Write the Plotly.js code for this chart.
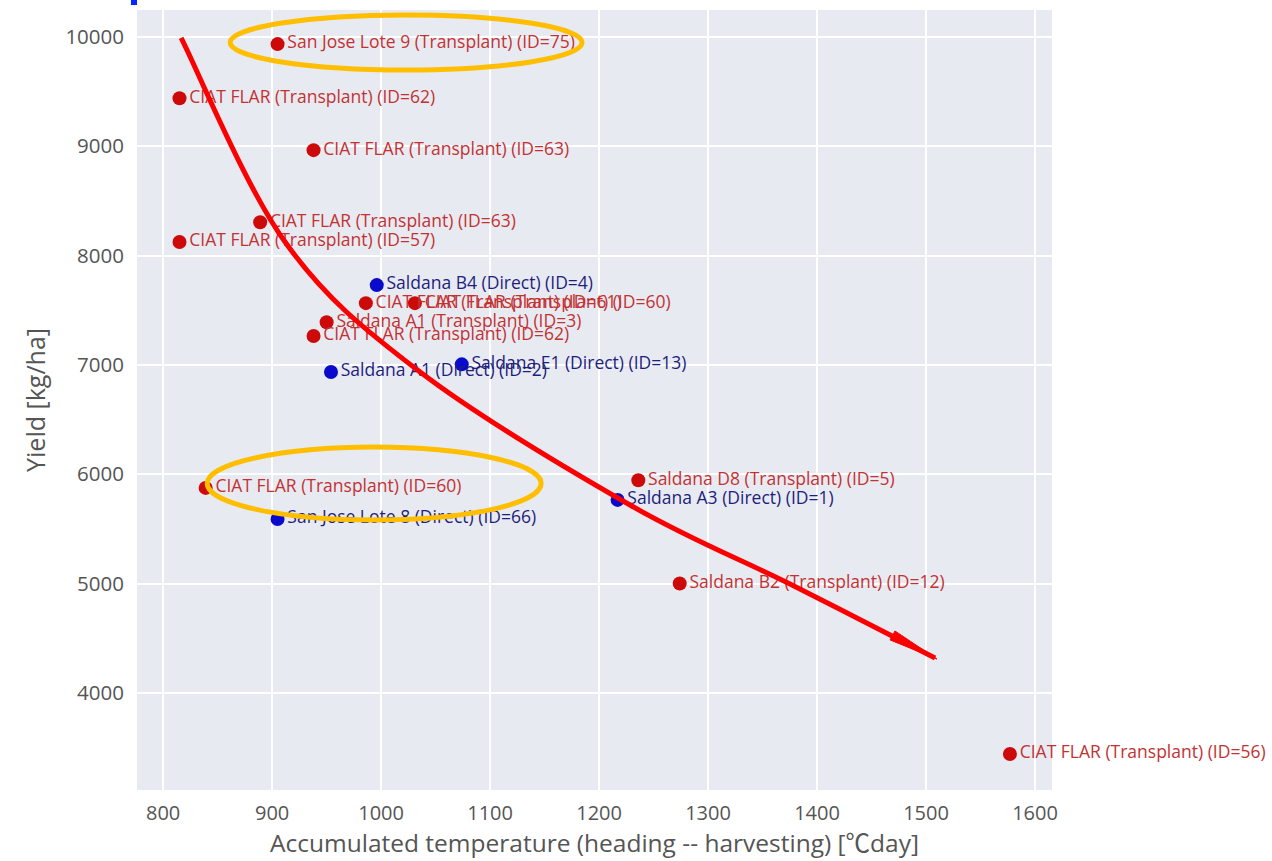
<!DOCTYPE html>
<html>
<head>
<meta charset="utf-8">
<script src="https://cdn.plot.ly/plotly-3.0.1.min.js"></script>
<style>html,body{margin:0;padding:0;background:#fff;}#chart{width:1272px;height:861px;}</style>
</head>
<body>
<div id="chart"></div>
<script>
// ---- Data ----
const transplantLabels = [
  "San Jose Lote 9 (Transplant) (ID=75)",
  "CIAT FLAR (Transplant) (ID=62)",
  "CIAT FLAR (Transplant) (ID=63)",
  "CIAT FLAR (Transplant) (ID=63)",
  "CIAT FLAR (Transplant) (ID=57)",
  "CIAT FLAR (Transplant) (ID=61)",
  "CIAT FLAR (Transplant) (ID=60)",
  "Saldana A1 (Transplant) (ID=3)",
  "CIAT FLAR (Transplant) (ID=62)",
  "Saldana D8 (Transplant) (ID=5)",
  "CIAT FLAR (Transplant) (ID=60)",
  "Saldana B2 (Transplant) (ID=12)",
  "CIAT FLAR (Transplant) (ID=56)"
];
const transplantTemp = [905, 815, 938, 889, 815, 986, 1031, 950, 938, 1236, 839, 1274, 1577];
const transplantYield = [9935, 9440, 8965, 8305, 8125, 7565, 7565, 7390, 7265, 5945, 5875, 5000, 3440];

const directLabels = [
  "Saldana B4 (Direct) (ID=4)",
  "Saldana E1 (Direct) (ID=13)",
  "Saldana A1 (Direct) (ID=2)",
  "Saldana A3 (Direct) (ID=1)",
  "San Jose Lote 8 (Direct) (ID=66)"
];
const directTemp = [996, 1074, 954, 1217, 905];
const directYield = [7730, 7005, 6935, 5765, 5590];

const xTicks = [800, 900, 1000, 1100, 1200, 1300, 1400, 1500, 1600];
const yTicks = [4000, 5000, 6000, 7000, 8000, 9000, 10000];

// ---- Hand-drawn overlay (annotation marks, in axis units) ----
const trendCurve = [[816.5, 9991], [911.9, 8124], [1035.8, 6935], [1228.4, 5718], [1375.2, 4995], [1508.3, 4318]];
const arrowHead = [[1510.1, 4309], [1471.5, 4566], [1467.0, 4484]];
const ellipseTop = {x0: 861.5, x1: 1184.4, y0: 9698, y1: 10201};
const ellipseMid = {x0: 840.4, x1: 1146.8, y0: 5581, y1: 6249};

function catmullPath(pts) {
  let d = `M ${pts[0][0]},${pts[0][1]}`;
  for (let i = 0; i < pts.length - 1; i++) {
    const p0 = pts[Math.max(i - 1, 0)], p1 = pts[i], p2 = pts[i + 1], p3 = pts[Math.min(i + 2, pts.length - 1)];
    const c1 = [p1[0] + (p2[0] - p0[0]) / 6, p1[1] + (p2[1] - p0[1]) / 6];
    const c2 = [p2[0] - (p3[0] - p1[0]) / 6, p2[1] - (p3[1] - p1[1]) / 6];
    d += ` C ${c1[0]},${c1[1]} ${c2[0]},${c2[1]} ${p2[0]},${p2[1]}`;
  }
  return d;
}

const FONT = "'Open Sans', 'Noto Sans CJK JP', 'DejaVu Sans', sans-serif";

const traces = [
  {
    type: 'scatter', mode: 'markers+text', name: 'Transplant',
    x: transplantTemp, y: transplantYield, text: transplantLabels,
    textposition: 'middle right', cliponaxis: false,
    marker: {color: 'rgb(205,10,10)', size: 14},
    textfont: {family: FONT, size: 17.5, color: 'rgb(195,50,50)'}
  },
  {
    type: 'scatter', mode: 'markers+text', name: 'Direct',
    x: directTemp, y: directYield, text: directLabels,
    textposition: 'middle right', cliponaxis: false,
    marker: {color: 'rgb(10,10,205)', size: 14},
    textfont: {family: FONT, size: 17.5, color: 'rgb(30,30,125)'}
  }
];

const layout = {
  width: 1272, height: 861,
  margin: {l: 137, r: 220, t: 10, b: 71},
  paper_bgcolor: '#ffffff',
  plot_bgcolor: '#E8EAF2',
  showlegend: false,
  font: {family: FONT, color: '#444'},
  xaxis: {
    range: [776, 1615.6], tickvals: xTicks, ticktext: xTicks.map(String),
    gridcolor: '#ffffff', gridwidth: 1.5, zeroline: false, showline: false,
    ticklabelstandoff: 9,
    tickfont: {family: FONT, size: 20, color: '#555'},
    title: {text: 'Accumulated temperature (heading -- harvesting) [℃day]', font: {family: FONT, size: 24.5, color: '#555'}, standoff: 5}
  },
  yaxis: {
    range: [3111, 10247], tickvals: yTicks, ticktext: yTicks.map(String),
    gridcolor: '#ffffff', gridwidth: 1.5, zeroline: false, showline: false,
    ticklabelstandoff: 12,
    tickfont: {family: FONT, size: 20.5, color: '#555'},
    title: {text: 'Yield [kg/ha]', font: {family: FONT, size: 25, color: '#555'}, standoff: 12}
  },
  shapes: [
    {type: 'circle', xref: 'x', yref: 'y', x0: ellipseTop.x0, x1: ellipseTop.x1, y0: ellipseTop.y0, y1: ellipseTop.y1,
     line: {color: 'rgb(255,190,0)', width: 5}},
    {type: 'circle', xref: 'x', yref: 'y', x0: ellipseMid.x0, x1: ellipseMid.x1, y0: ellipseMid.y0, y1: ellipseMid.y1,
     line: {color: 'rgb(255,190,0)', width: 5}},
    {type: 'path', xref: 'x', yref: 'y', path: catmullPath(trendCurve), line: {color: 'rgb(250,0,0)', width: 5}},
    {type: 'path', xref: 'x', yref: 'y',
     path: `M ${arrowHead[0][0]},${arrowHead[0][1]} L ${arrowHead[1][0]},${arrowHead[1][1]} L ${arrowHead[2][0]},${arrowHead[2][1]} Z`,
     fillcolor: 'rgb(250,0,0)', line: {color: 'rgb(250,0,0)', width: 1}},
    {type: 'rect', xref: 'paper', yref: 'paper', x0: -0.0066, x1: 0, y0: 1.0064, y1: 1.0128,
     fillcolor: 'rgb(0,40,255)', line: {width: 0}}
  ]
};

Plotly.newPlot('chart', traces, layout, {displayModeBar: false});
</script>
</body>
</html>
